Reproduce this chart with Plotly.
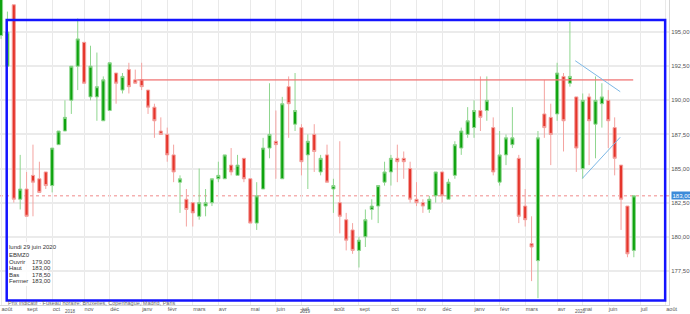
import pandas as pd
import plotly.graph_objects as go

# ---------------- data ----------------
start_week = "2018-08-06"
n_weeks = 100
weeks = pd.date_range(start_week, periods=n_weeks, freq="7D")

opens = [194.75, 192.5, 197.0, 182.75, 183.5, 184.5, 184.25, 184.75, 183.75, 186.75,
         187.75, 190.0, 192.5, 194.25, 190.25, 190.25, 188.5, 189.25, 192.0, 190.75,
         192.25, 191.5, 191.5, 190.75, 189.5, 187.75, 187.5, 186.0, 184.0, 182.75,
         182.5, 181.5, 182.25, 182.5, 184.25, 184.25, 185.25, 184.5, 185.75, 184.25,
         181.0, 183.5, 186.5, 187.0, 184.25, 191.0, 188.25, 188.0, 186.0, 187.5,
         184.75, 186.0, 183.5, 182.5, 181.25, 180.5, 179.0, 180.0, 182.0, 182.25,
         184.0, 184.75, 185.75, 185.75, 185.0, 182.75, 182.5, 182.0, 183.0, 184.75,
         182.75, 184.5, 186.5, 187.5, 188.0, 189.25, 189.25, 188.0, 184.0, 186.0,
         186.75, 185.75, 182.25, 179.5, 178.25, 189.0, 188.75, 189.0, 191.75, 191.25,
         190.25, 185.0, 190.25, 188.25, 189.75, 190.0, 188.0, 185.25, 182.25, 179.0]
highs = [198.0, 196.5, 197.0, 186.0, 184.75, 186.75, 185.5, 184.75, 186.5, 187.75,
         190.0, 192.5, 196.0, 194.25, 194.0, 193.5, 191.75, 192.75, 192.0, 192.0,
         192.75, 192.25, 192.75, 190.75, 189.75, 188.75, 188.0, 186.75, 184.5, 183.5,
         182.5, 185.0, 183.5, 184.25, 185.5, 186.0, 186.5, 186.0, 185.75, 184.25,
         184.0, 187.25, 191.25, 189.25, 190.25, 191.75, 192.0, 188.25, 187.5, 188.25,
         186.0, 186.75, 184.25, 187.0, 181.75, 181.0, 180.0, 182.0, 182.75, 183.75,
         185.5, 186.0, 186.75, 186.25, 185.5, 184.0, 182.75, 183.0, 184.75, 184.75,
         184.25, 187.0, 188.0, 189.5, 190.0, 191.75, 191.75, 188.75, 187.75, 187.5,
         189.5, 186.0, 183.5, 181.5, 187.75, 191.5, 189.75, 192.75, 192.0, 195.75,
         190.25, 190.5, 190.5, 191.75, 191.25, 190.75, 188.75, 185.25, 182.25, 183.0]
lows = [194.5, 192.25, 182.5, 182.0, 181.5, 181.5, 183.25, 183.5, 183.25, 186.75,
        187.75, 189.0, 190.75, 191.25, 190.0, 188.5, 188.5, 189.25, 189.75, 190.5,
        190.5, 191.25, 190.75, 189.0, 187.25, 187.5, 185.5, 184.0, 181.75, 180.75,
        180.75, 181.25, 181.5, 182.25, 184.0, 184.25, 184.5, 184.5, 184.0, 181.0,
        180.5, 183.5, 185.75, 184.25, 184.25, 187.25, 187.75, 184.5, 183.5, 184.75,
        184.5, 184.0, 181.75, 180.25, 179.0, 178.75, 177.75, 179.25, 181.25, 181.0,
        183.75, 183.75, 184.0, 184.25, 182.5, 182.25, 181.75, 181.75, 182.5, 182.5,
        182.75, 184.25, 186.0, 187.25, 187.25, 187.75, 188.5, 184.5, 183.75, 185.25,
        186.5, 181.0, 180.75, 176.75, 175.5, 187.25, 185.25, 188.5, 186.25, 191.0,
        184.75, 184.25, 185.25, 185.75, 188.0, 186.5, 184.5, 180.5, 178.5, 178.5]
closes = [197.5, 195.0, 182.75, 183.5, 181.5, 184.0, 183.25, 183.75, 186.5, 187.75,
          188.75, 192.5, 194.5, 191.25, 192.5, 191.0, 191.5, 192.75, 191.25, 191.75,
          191.0, 191.25, 191.0, 189.5, 188.5, 187.5, 186.0, 184.75, 184.25, 182.0,
          181.75, 182.5, 182.5, 184.25, 184.5, 186.0, 184.75, 185.25, 184.25, 181.0,
          183.0, 186.5, 187.5, 186.75, 189.75, 189.75, 189.25, 185.5, 187.0, 186.25,
          185.75, 184.0, 183.75, 181.5, 179.75, 179.0, 179.75, 181.25, 182.25, 183.75,
          184.75, 185.75, 185.5, 185.5, 182.75, 182.5, 182.25, 182.75, 184.75, 183.0,
          184.0, 186.75, 187.75, 188.5, 189.25, 188.75, 190.0, 184.75, 186.0, 187.25,
          187.25, 181.5, 181.25, 179.25, 187.25, 188.0, 187.5, 192.0, 188.5, 191.75,
          186.5, 190.0, 188.5, 190.0, 190.25, 188.5, 185.75, 182.75, 178.75, 183.0]

month_ticks = ["2018-08-06", "2018-09-03", "2018-10-01", "2018-11-05", "2018-12-03",
               "2019-01-07", "2019-02-04", "2019-03-04", "2019-04-01", "2019-05-06",
               "2019-06-03", "2019-07-01", "2019-08-05", "2019-09-02", "2019-10-07",
               "2019-11-04", "2019-12-02", "2020-01-06", "2020-02-03", "2020-03-02",
               "2020-04-06", "2020-05-04", "2020-06-01", "2020-07-06", "2020-08-03"]
month_labels = ["août", "sept", "oct", "nov", "déc", "janv", "févr", "mars", "avr", "mai",
                "juin", "juil", "août", "sept", "oct", "nov", "déc", "janv", "févr", "mars",
                "avr", "mai", "juin", "juil", "août"]
year_labels = ["2018", "2019", "2020"]
year_label_pos = [0.105, 0.457, 0.868]

price_ticks = [177.5, 180.0, 182.5, 185.0, 187.5, 190.0, 192.5, 195.0]
price_labels = ["177,50", "180,00", "182,50", "185,00", "187,50", "190,00", "192,50", "195,00"]

last_price = 183.0
last_price_label = "183,00"
resistance_level = 191.5
resistance_span = [21.3, 98.9]          # in week index units
blue_line_1 = [(89.83, 192.9), (96.87, 190.63)]
blue_line_2 = [(90.97, 184.29), (96.87, 187.29)]
frame_box = [(0.89, 195.88), (103.9, 175.33)]

info_date = "lundi 29 juin 2020"
info_symbol = "EBMZ0"
footer = "Prix indicatif · Fuseau horaire: Bruxelles, Copenhague, Madrid, Paris"

# ---------------- helpers ----------------
t0 = pd.Timestamp(start_week)
def wk(i):
    return t0 + pd.Timedelta(days=7 * i)

def fr(v):
    return f"{v:.2f}".replace(".", ",")

GREEN = "#0ea30e"
GREEN_L = "#8fd68f"
RED = "#e5352b"
RED_L = "#f4a3a0"
FONT = "Liberation Sans, Arial, sans-serif"

fig = go.Figure()
fig.add_trace(go.Candlestick(
    x=weeks, open=opens, high=highs, low=lows, close=closes,
    increasing=dict(line=dict(color=GREEN_L, width=1), fillcolor=GREEN),
    decreasing=dict(line=dict(color=RED_L, width=1), fillcolor=RED),
    whiskerwidth=0, showlegend=False, hoverinfo="skip",
))

W, H = 690, 314
ML, MR, MT, MB = 0, 21, 0, 9
PW, PH = W - ML - MR, H - MT - MB

shapes = []
shapes.append(dict(type="line", xref="paper", yref="y", x0=0, x1=1, y0=last_price, y1=last_price,
                   line=dict(color="#f08a8a", width=1, dash="dot"), layer="below"))
shapes.append(dict(type="line", xref="x", yref="y", x0=wk(resistance_span[0]), x1=wk(resistance_span[1]),
                   y0=resistance_level, y1=resistance_level,
                   line=dict(color="rgba(240,120,120,0.75)", width=1.6)))
for ln in (blue_line_1, blue_line_2):
    shapes.append(dict(type="line", xref="x", yref="y", x0=wk(ln[0][0]), y0=ln[0][1],
                       x1=wk(ln[1][0]), y1=ln[1][1],
                       line=dict(color="#7cb8e6", width=1)))
shapes.append(dict(type="rect", xref="x", yref="y", x0=wk(frame_box[0][0]), y0=frame_box[0][1],
                   x1=wk(frame_box[1][0]), y1=frame_box[1][1],
                   line=dict(color="#1414ff", width=2.5), fillcolor="rgba(0,0,0,0)"))

def py(ypx):
    return (MT + PH - ypx) / PH
def px(xpx):
    return (xpx - ML) / PW
shapes.append(dict(type="rect", xref="paper", yref="paper", x0=px(8), x1=px(48), y0=py(286), y1=py(242),
                   line=dict(width=0), fillcolor="rgba(255,255,255,0.85)"))

ann = []
small = dict(family=FONT, size=6, color="#333333")
ann.append(dict(xref="paper", yref="paper", x=px(7), y=py(247), text=info_date, showarrow=False,
                xanchor="left", yanchor="middle", font=small))
ann.append(dict(xref="paper", yref="paper", x=px(7), y=py(255), text=info_symbol, showarrow=False,
                xanchor="left", yanchor="middle", font=small))
last = n_weeks - 1
rows = [("Ouvrir", opens[last]), ("Haut", highs[last]), ("Bas", lows[last]), ("Fermer", closes[last])]
for k, (lab, val) in enumerate(rows):
    yy = 262 + k * 6.4
    ann.append(dict(xref="paper", yref="paper", x=px(7), y=py(yy), text=lab, showarrow=False,
                    xanchor="left", yanchor="middle", font=small))
    ann.append(dict(xref="paper", yref="paper", x=px(30), y=py(yy), text=fr(val), showarrow=False,
                    xanchor="left", yanchor="middle", font=small))
ann.append(dict(xref="paper", yref="paper", x=px(6), y=py(302.5), text=footer, showarrow=False,
                xanchor="left", yanchor="middle", font=dict(family=FONT, size=5.5, color="#666666")))
for lab, pos in zip(year_labels, year_label_pos):
    ann.append(dict(xref="paper", yref="paper", x=pos, y=py(311.5), text=lab, showarrow=False,
                    xanchor="center", yanchor="middle", font=dict(family=FONT, size=4.5, color="#555555")))
ann.append(dict(xref="paper", yref="y", x=1, y=last_price, xshift=2, text=last_price_label, showarrow=False,
                xanchor="left", yanchor="middle", bgcolor="#3d8bd9", borderpad=0.5,
                font=dict(family=FONT, size=6, color="#ffffff")))

fig.update_layout(
    width=W, height=H, margin=dict(l=ML, r=MR, t=MT, b=MB),
    paper_bgcolor="white", plot_bgcolor="white",
    shapes=shapes, annotations=ann, showlegend=False,
    boxgap=0.3,
)
fig.update_xaxes(
    type="date", range=[wk(-0.16), wk(104.5)], rangeslider=dict(visible=False),
    tickvals=month_ticks, ticktext=month_labels, ticklabelposition="outside right",
    ticklabelstandoff=-2,
    tickfont=dict(family=FONT, size=5.5, color="#555555"), ticks="",
    showgrid=True, gridcolor="#e9e9e9", gridwidth=1,
    showline=True, linecolor="#d6d6d6", linewidth=1, zeroline=False,
)
fig.update_yaxes(
    side="right", range=[175.0, 197.35],
    tickvals=price_ticks, ticktext=price_labels,
    tickfont=dict(family=FONT, size=6, color="#555555"), ticks="",
    showgrid=True, gridcolor="#ebebeb", gridwidth=1.5,
    showline=True, linecolor="#d6d6d6", linewidth=1, zeroline=False,
)

fig.write_html("out.html")
